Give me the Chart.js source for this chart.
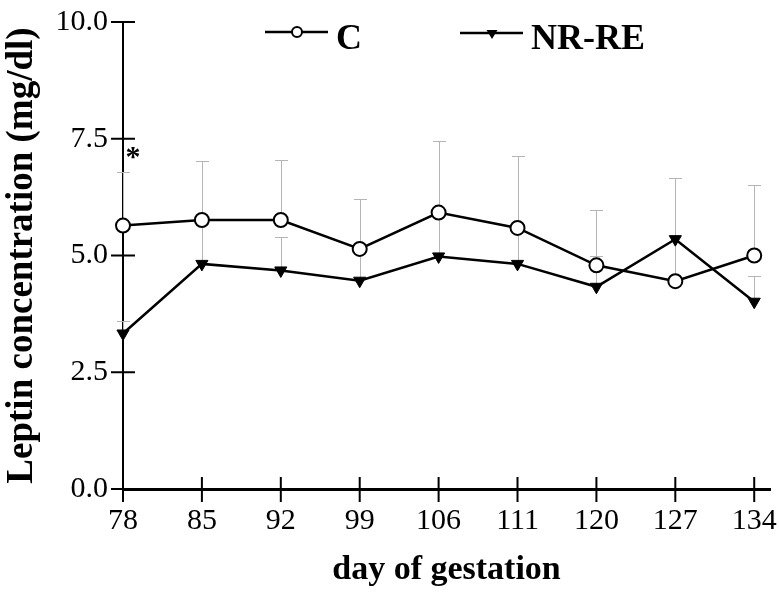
<!DOCTYPE html>
<html>
<head>
<meta charset="utf-8">
<script src="https://cdn.jsdelivr.net/npm/chart.js@4/dist/chart.umd.min.js"></script>
<style>
  html, body { margin: 0; padding: 0; background: #fff; }
  canvas { display: block; }
</style>
</head>
<body>
<canvas id="leptinChart" width="779" height="592"></canvas>
<script>
// day of gestation (x categories)
const days = ["78", "85", "92", "99", "106", "111", "120", "127", "134"];

// C group: mean and upper error bar (mg/dl)
const cMean = [5.64, 5.76, 5.76, 5.14, 5.92, 5.59, 4.79, 4.45, 5.00];
const cErr  = [1.14, 1.26, 1.28, 1.06, 1.54, 1.54, 1.18, 2.21, 1.50];

// NR-RE group
const nrMean = [3.33, 4.82, 4.68, 4.46, 4.98, 4.82, 4.33, 5.35, 4.01];
const nrErr  = [0.27, 0.85, 0.72, 0.65, 0.90, 0.75, 0.67, 1.31, 0.56];

// y axis ticks
const yTicks = [0, 2.5, 5, 7.5, 10];

// days marked as significant (index into days)
const starDays = [0];

const serif = '"Liberation Serif", "Times New Roman", serif';

// light grey upward error bars, drawn under the lines
const errorBars = {
    id: "errorBars",
    beforeDatasetsDraw(chart) {
        const { ctx, scales: { x, y } } = chart;
        ctx.save();
        ctx.strokeStyle = "#b5b5b5";
        ctx.lineWidth = 1;
        [[cMean, cErr], [nrMean, nrErr]].forEach(([m, e]) => {
            m.forEach((v, i) => {
                const px = Math.round(x.getPixelForValue(i)) + 0.5;
                const y0 = y.getPixelForValue(v);
                const y1 = Math.round(y.getPixelForValue(v + e[i])) + 0.5;
                ctx.beginPath();
                ctx.moveTo(px, y0);
                ctx.lineTo(px, y1);
                ctx.moveTo(px - 6.5, y1);
                ctx.lineTo(px + 6.5, y1);
                ctx.stroke();
            });
        });
        ctx.restore();
    }
};

// tick marks that cross the axis lines
const crossTicks = {
    id: "crossTicks",
    afterDraw(chart) {
        const { ctx, chartArea, scales: { x, y } } = chart;
        ctx.save();
        ctx.strokeStyle = "#000";
        ctx.lineWidth = 2;
        ctx.beginPath();
        y.ticks.forEach(t => {
            const py = y.getPixelForValue(t.value);
            ctx.moveTo(chartArea.left - 12, py);
            ctx.lineTo(chartArea.left + 12, py);
        });
        x.ticks.forEach(t => {
            const px = x.getPixelForValue(t.value);
            ctx.moveTo(px, chartArea.bottom - 12);
            ctx.lineTo(px, chartArea.bottom + 13);
        });
        ctx.stroke();

        // significance star
        ctx.fillStyle = "#000";
        ctx.font = "bold 30px " + serif;
        ctx.textAlign = "center";
        ctx.textBaseline = "middle";
        starDays.forEach(i => {
            ctx.fillText("*", x.getPixelForValue(i) + 10,
                         y.getPixelForValue(cMean[i] + cErr[i]) - 14);
        });
        ctx.restore();
    }
};

// legend: line with marker, then label
const lineLegend = {
    id: "lineLegend",
    afterDraw(chart) {
        const { ctx } = chart;
        const items = [
            { x: 265, y: 32, style: "circle", text: "C" },
            { x: 460, y: 33, style: "triangle", text: "NR-RE" }
        ];
        ctx.save();
        items.forEach(it => {
            ctx.strokeStyle = "#000";
            ctx.lineWidth = 2.5;
            ctx.beginPath();
            ctx.moveTo(it.x, it.y);
            ctx.lineTo(it.x + 63, it.y);
            ctx.stroke();
            const cx = it.x + 32;
            if (it.style === "circle") {
                ctx.fillStyle = "#fff";
                ctx.lineWidth = 2;
                ctx.beginPath();
                ctx.arc(cx, it.y, 5, 0, Math.PI * 2);
                ctx.fill();
                ctx.stroke();
            } else {
                ctx.fillStyle = "#000";
                ctx.beginPath();
                ctx.moveTo(cx - 5.5, it.y - 3);
                ctx.lineTo(cx + 5.5, it.y - 3);
                ctx.lineTo(cx, it.y + 6);
                ctx.closePath();
                ctx.fill();
            }
            ctx.fillStyle = "#000";
            ctx.font = "bold 36px " + serif;
            ctx.textAlign = "left";
            ctx.textBaseline = "alphabetic";
            ctx.fillText(it.text, it.x + 71, 49);
        });
        ctx.restore();
    }
};

// hidden tick marks reserve the space; crossTicks draws the visible ones
const hiddenTicks = {
    display: true,
    drawOnChartArea: false,
    drawTicks: true,
    tickLength: 12,
    color: "rgba(0,0,0,0)"
};

new Chart(document.getElementById("leptinChart"), {
    type: "line",
    data: {
        datasets: [{
            label: "C",
            data: cMean.map((v, i) => ({ x: i, y: v })),
            borderColor: "#000",
            borderWidth: 2.5,
            pointStyle: "circle",
            pointRadius: 7,
            pointBorderWidth: 2,
            pointBackgroundColor: "#fff",
            pointBorderColor: "#000",
            clip: false
        }, {
            label: "NR-RE",
            data: nrMean.map((v, i) => ({ x: i, y: v })),
            borderColor: "#000",
            borderWidth: 2.5,
            pointStyle: "triangle",
            pointRotation: 180,
            pointRadius: 7,
            pointBorderWidth: 1,
            pointBackgroundColor: "#000",
            pointBorderColor: "#000",
            clip: false
        }]
    },
    options: {
        responsive: false,
        animation: false,
        layout: { padding: { top: 22, right: 3, left: 0, bottom: 0 } },
        plugins: {
            legend: { display: false },
            tooltip: { enabled: false }
        },
        scales: {
            x: {
                type: "linear",
                min: 0,
                max: 8.2,
                afterBuildTicks: s => { s.ticks = days.map((d, i) => ({ value: i })); },
                afterFit: s => { s.height = 103; },
                grid: hiddenTicks,
                border: { display: true, color: "#000", width: 3 },
                ticks: {
                    callback: v => days[v],
                    color: "#000",
                    font: { family: serif, size: 30 },
                    padding: 2,
                    maxRotation: 0,
                    autoSkip: false
                },
                title: {
                    display: true,
                    text: "day of gestation",
                    color: "#000",
                    font: { family: serif, size: 34, weight: "bold" },
                    padding: { top: 0, bottom: 1 }
                }
            },
            y: {
                min: 0,
                max: 10,
                afterBuildTicks: s => { s.ticks = yTicks.map(v => ({ value: v })); },
                afterFit: s => { s.width = 123; },
                grid: hiddenTicks,
                border: { display: true, color: "#000", width: 2 },
                ticks: {
                    callback: v => v.toFixed(1),
                    color: "#000",
                    font: { family: serif, size: 30 },
                    padding: 3
                },
                title: {
                    display: true,
                    text: "Leptin concentration (mg/dl)",
                    color: "#000",
                    font: { family: serif, size: 37, weight: "bold" },
                    padding: { top: 0, bottom: 0 }
                }
            }
        }
    },
    plugins: [errorBars, crossTicks, lineLegend]
});
</script>
</body>
</html>
